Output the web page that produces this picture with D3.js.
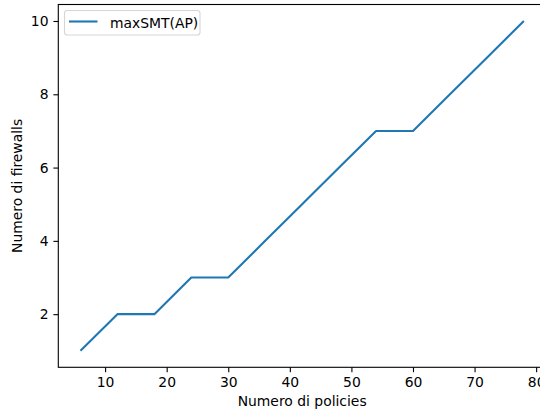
<!DOCTYPE html>
<html>
<head>
<meta charset="utf-8">
<script src="https://cdn.jsdelivr.net/npm/d3@7"></script>
<style>
  html, body { margin: 0; padding: 0; background: #fff; }
  svg { display: block; font-family: "DejaVu Sans", sans-serif; }
</style>
</head>
<body>
<svg id="chart" width="540" height="414"></svg>
<script>
// Number of policies vs number of firewalls
const policies = [6, 12, 18, 24, 30, 36, 42, 48, 54, 60, 66, 72, 78];
const firewalls = [1, 2, 2, 3, 3, 4, 5, 6, 7, 7, 8, 9, 10];
const seriesName = "maxSMT(AP)";
const xTicks = [10, 20, 30, 40, 50, 60, 70, 80];
const yTicks = [2, 4, 6, 8, 10];
const xLabel = "Numero di policies";
const yLabel = "Numero di firewalls";

const svg = d3.select("#chart");
const plot = { left: 58.3, right: 546, top: 4.5, bottom: 367.3 };
const fontSize = 13.9;
const tickLen = 4.9, tickPad = 4.9;

// 5% padding around the data range on both axes
const xExt = d3.extent(policies), yExt = d3.extent(firewalls);
const xPad = (xExt[1] - xExt[0]) * 0.05, yPad = (yExt[1] - yExt[0]) * 0.05;
const x = d3.scaleLinear().domain([xExt[0] - xPad, xExt[1] + xPad]).range([plot.left, plot.right]);
const y = d3.scaleLinear().domain([yExt[0] - yPad, yExt[1] + yPad]).range([plot.bottom, plot.top]);

// line
const data = policies.map((p, i) => [p, firewalls[i]]);
svg.append("path")
  .datum(data)
  .attr("fill", "none")
  .attr("stroke", "#1f77b4")
  .attr("stroke-width", 2.1)
  .attr("stroke-linejoin", "round")
  .attr("stroke-linecap", "butt")
  .attr("d", d3.line().x(d => x(d[0])).y(d => y(d[1])));

// axes
const xAxis = svg.append("g")
  .attr("transform", `translate(0,${plot.bottom})`)
  .call(d3.axisBottom(x).tickValues(xTicks).tickFormat(d3.format("d"))
    .tickSizeInner(tickLen).tickSizeOuter(0).tickPadding(tickPad));
const yAxis = svg.append("g")
  .attr("transform", `translate(${plot.left},0)`)
  .call(d3.axisLeft(y).tickValues(yTicks).tickFormat(d3.format("d"))
    .tickSizeInner(tickLen).tickSizeOuter(0).tickPadding(tickPad));
[xAxis, yAxis].forEach(g => {
  g.select(".domain").remove();
  g.selectAll(".tick line").attr("stroke", "#000").attr("stroke-width", 1.1);
  g.selectAll(".tick text").attr("fill", "#000")
    .style("font-size", fontSize + "px").style("font-family", "DejaVu Sans, sans-serif");
});

// spines
const spine = svg.append("g").attr("stroke", "#000").attr("stroke-width", 1.1).attr("fill", "none");
spine.append("rect")
  .attr("x", plot.left).attr("y", plot.top)
  .attr("width", plot.right - plot.left).attr("height", plot.bottom - plot.top);

// axis labels
svg.append("text")
  .attr("x", (plot.left + plot.right) / 2).attr("y", 406)
  .attr("text-anchor", "middle").style("font-size", fontSize + "px")
  .text(xLabel);
svg.append("text")
  .attr("transform", `translate(22,${(plot.top + plot.bottom) / 2}) rotate(-90)`)
  .attr("text-anchor", "middle").style("font-size", fontSize + "px")
  .text(yLabel);

// legend
const lg = svg.append("g");
lg.append("rect")
  .attr("x", 64.5).attr("y", 10.5).attr("width", 135.5).attr("height", 24.5)
  .attr("rx", 2.8).attr("ry", 2.8)
  .attr("fill", "#fff").attr("fill-opacity", 0.8)
  .attr("stroke", "#d6d6d6").attr("stroke-width", 1.1);
lg.append("line")
  .attr("x1", 69).attr("x2", 97.5).attr("y1", 21.5).attr("y2", 21.5)
  .attr("stroke", "#1f77b4").attr("stroke-width", 2.1);
lg.append("text")
  .attr("x", 110).attr("y", 28.2)
  .style("font-size", fontSize + "px")
  .text(seriesName);
</script>
</body>
</html>
